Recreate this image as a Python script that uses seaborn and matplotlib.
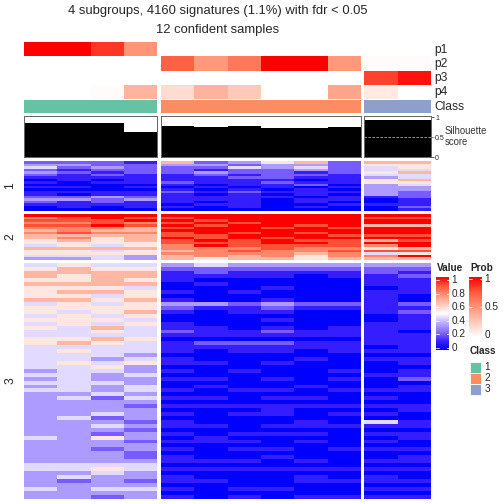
import numpy as np
import pandas as pd
import matplotlib
matplotlib.use("Agg")
import matplotlib.pyplot as plt
import seaborn as sns
from matplotlib.colors import LinearSegmentedColormap, ListedColormap
from matplotlib.patches import Rectangle

sns.set_theme(style="white")
plt.rcParams["font.family"] = ["Liberation Sans", "DejaVu Sans"]

# ---- data ----
title_lines = ["4 subgroups, 4160 signatures (1.1%) with fdr < 0.05", "12 confident samples"]
classes = ["1", "2", "3"]
group_sizes = [4, 6, 2]
class_colors = ["#66C2A5", "#FC8D62", "#8DA0CB"]
sample_class = [0, 0, 0, 0, 1, 1, 1, 1, 1, 1, 2, 2]

prob_labels = ["p1", "p2", "p3", "p4"]
prob_p1 = [1.0, 1.0, 0.85, 0.5, 0, 0, 0, 0, 0, 0, 0, 0]
prob_p2 = [0, 0, 0, 0, 0.72, 0.48, 0.62, 1.0, 1.0, 0.48, 0.02, 0.02]
prob_p3 = [0, 0, 0, 0, 0, 0, 0, 0, 0, 0, 0.82, 0.95]
prob_p4 = [0, 0, 0.02, 0.35, 0.17, 0.36, 0.25, 0, 0, 0.42, 0.1, 0]

silhouette = [0.86, 0.86, 0.86, 0.63, 0.78, 0.755, 0.78, 0.73, 0.73, 0.755, 0.93, 0.93]

# signature rows, one digit per sample (value = digit / 9)
slice1_rows = [
    "2221 623562 66", "3322 332332 55", "4232 224342 45", "2122 212232 44",
    "3212 232212 56", "2121 121221 44", "1111 112211 34", "0101 111101 56",
    "1011 211211 55", "0000 101120 34", "1101 010101 33", "0000 101010 33",
    "1111 212111 32", "1011 101010 32", "2232 111101 12", "3323 111011 01",
    "2121 101010 01", "1111 011001 11", "0101 101010 02", "0000 000000 01",
]
slice2_rows = [
    "9999 999999 99", "7898 899999 88", "8889 989999 99", "7787 898999 99",
    "8898 989989 66", "7776 899898 99", "6766 999999 99", "7877 898989 99",
    "6666 889998 88", "6756 989899 99", "5656 898988 68", "5555 888998 99",
    "4545 798888 79", "6666 777877 56", "5545 678778 88", "5555 777767 45",
    "4443 676757 79", "3343 656656 66",
]
slice3_rows = [
    "4544 343333 33", "5655 222222 22", "6666 121111 21", "6566 111101 12",
    "5565 100000 11", "6666 010000 11", "5554 000100 01", "5665 101000 11",
    "5545 000000 10", "6656 100100 10", "4545 332322 12", "5555 211211 11",
    "5456 101100 12", "4545 000000 01", "5554 000100 01", "4545 100000 11",
    "5464 110101 11", "4454 211211 10", "4444 111111 11", "5565 000000 11",
    "5654 122211 11", "4444 111111 01", "4544 101101 11", "4443 000000 00",
    "4434 100010 11", "4545 110100 01", "4453 000000 00", "3443 101001 01",
    "4434 000000 11", "3433 110101 02", "4443 000000 00", "3434 010010 01",
    "4434 101101 11", "3343 000000 00", "3424 110110 10", "3333 000000 00",
    "3332 111111 11", "3333 000100 01", "3343 101101 10", "3423 000000 00",
    "3332 100010 41", "3343 110111 11", "3332 000000 00", "3323 101110 11",
    "4353 010000 01", "3332 111010 10", "3333 000000 00", "3323 101101 11",
    "3332 000000 00", "3332 100100 01", "3333 111010 11", "4444 000000 00",
    "4454 111111 11", "3343 000000 00", "3433 100010 10", "3232 110011 11",
    "3333 000000 00", "4344 101100 11", "3333 000000 00", "3323 101011 11",
]
value_ticks = [0, 0.2, 0.4, 0.6, 0.8, 1]
prob_ticks = [0, 0.5, 1]


def parse(rows):
    return np.array([[int(c) / 9 for c in r.replace(" ", "")] for r in rows])


slices = [parse(slice1_rows), parse(slice2_rows), parse(slice3_rows)]
prob = pd.DataFrame([prob_p1, prob_p2, prob_p3, prob_p4], index=prob_labels)

value_cmap = LinearSegmentedColormap.from_list("value", [
    (0, "#0000FF"), (0.125, "#3B22FF"), (0.25, "#8A70FF"), (0.375, "#C0B0FF"),
    (0.5, "#FFFFFF"), (0.625, "#FFC9BA"), (0.75, "#FF9476"), (0.875, "#FF5A3E"),
    (1, "#FF0000")])
prob_cmap = LinearSegmentedColormap.from_list("prob", [
    (0, "#FFFFFF"), (0.25, "#FFC9BA"), (0.5, "#FF9476"), (0.75, "#FF5A3E"), (1, "#FF0000")])

# ---- layout in pixels ----
W = H = 504
fig = plt.figure(figsize=(7, 7), dpi=72)


def px_axes(x0, y0, x1, y1):
    return fig.add_axes([x0 / W, 1 - y1 / H, (x1 - x0) / W, (y1 - y0) / H])


def clean(ax):
    ax.set_xlabel("")
    ax.set_ylabel("")
    ax.set_xticks([])
    ax.set_yticks([])


col_spans = [(24, 157.3), (161, 361), (364, 431)]
slice_spans = [(161.3, 210.7), (214, 259.7), (262.7, 498.5)]
starts = np.cumsum([0] + group_sizes)

for g, (x0, x1) in enumerate(col_spans):
    cols = slice(starts[g], starts[g + 1])

    # probability rows
    ax = px_axes(x0, 42, x1, 99.3)
    sns.heatmap(prob.iloc[:, cols], ax=ax, cmap=prob_cmap, vmin=0, vmax=1, cbar=False)
    clean(ax)

    # class row
    ax = px_axes(x0, 100, x1, 113.3)
    sns.heatmap(np.array([sample_class[cols]]), ax=ax, cmap=ListedColormap(class_colors),
                vmin=-0.5, vmax=2.5, cbar=False)
    clean(ax)

    # silhouette bars
    ax = px_axes(x0, 115.7, x1, 157.2)
    sil = silhouette[cols]
    ax.bar(np.arange(len(sil)), sil, width=1.0, color="black", edgecolor="black", linewidth=0)
    ax.set_xlim(-0.5, len(sil) - 0.5)
    ax.set_ylim(0, 1.04)
    ax.set_xticks([])
    for sp in ax.spines.values():
        sp.set_visible(True)
        sp.set_color("#666666")
        sp.set_linewidth(1)
    if g == 2:
        ax.axhline(0.5, color="#BBBBBB", lw=0.8, ls=(0, (3, 2)), clip_on=False,
                   xmax=1.08)
        ax.yaxis.tick_right()
        ax.set_yticks([0, 0.5, 1])
        ax.set_yticklabels(["0", "0.5", "1"])
        ax.tick_params(axis="y", length=3, width=0.8, color="#333333", labelsize=7,
                       pad=1, right=True)
    else:
        ax.set_yticks([])

    # main heatmap slices
    for s, (y0, y1) in enumerate(slice_spans):
        ax = px_axes(x0, y0, x1, y1)
        sns.heatmap(slices[s][:, cols], ax=ax, cmap=value_cmap, vmin=0, vmax=1, cbar=False)
        clean(ax)

# ---- overlay for text and legends ----
ov = fig.add_axes([0, 0, 1, 1])
ov.patch.set_alpha(0)

ov.text(218, 11, title_lines[0], ha="center", va="center", fontsize=13)
ov.text(218, 29.5, title_lines[1], ha="center", va="center", fontsize=13)

for lab, y in zip(prob_labels + ["Class"], [49.5, 64, 78.5, 92.5, 107]):
    ov.text(434, y, lab, ha="left", va="center", fontsize=12)
ov.text(445, 131.5, "Silhouette", ha="left", va="center", fontsize=9.5, color="#333333")
ov.text(445, 142, "score", ha="left", va="center", fontsize=9.5, color="#333333")

for lab, (y0, y1) in zip(classes, slice_spans):
    ov.text(10, (y0 + y1) / 2, lab, ha="center", va="center", fontsize=12, rotation=90)

# Value legend
ov.text(437, 268, "Value", ha="left", va="center", fontsize=10, fontweight="bold")
vb = (436, 449, 277, 350)
ov.imshow(np.linspace(1, 0, 256)[:, None], extent=(vb[0], vb[1], vb[3], vb[2]),
          cmap=value_cmap, vmin=0, vmax=1, aspect="auto")
for t in value_ticks:
    y = 348 - t * 68
    ov.plot([vb[0], vb[0] + 2.5], [y, y], color="white", lw=0.8)
    ov.plot([vb[1] - 2.5, vb[1]], [y, y], color="white", lw=0.8)
    ov.text(451.5, y, f"{t:g}", ha="left", va="center", fontsize=10)

# Prob legend
ov.text(470, 268, "Prob", ha="left", va="center", fontsize=10, fontweight="bold")
pb = (469, 482, 277, 337)
ov.imshow(np.linspace(1, 0, 256)[:, None], extent=(pb[0], pb[1], pb[3], pb[2]),
          cmap=prob_cmap, vmin=0, vmax=1, aspect="auto")
for t in prob_ticks:
    y = 335 - t * 56
    ov.plot([pb[0], pb[0] + 2.5], [y, y], color="white", lw=0.8)
    ov.plot([pb[1] - 2.5, pb[1]], [y, y], color="white", lw=0.8)
    ov.text(484.5, y, f"{t:g}", ha="left", va="center", fontsize=10)

# Class legend
ov.text(470, 351, "Class", ha="left", va="center", fontsize=10, fontweight="bold")
for i, (lab, c) in enumerate(zip(classes, class_colors)):
    y0 = 361.5 + i * 11
    ov.add_patch(Rectangle((469.5, y0), 11.5, 11, facecolor=c, edgecolor="white", lw=0.8))
    ov.text(484.5, y0 + 5.5, lab, ha="left", va="center", fontsize=10)

ov.set_xlim(0, W)
ov.set_ylim(H, 0)
ov.axis("off")

fig.savefig("out.png", dpi=72)
